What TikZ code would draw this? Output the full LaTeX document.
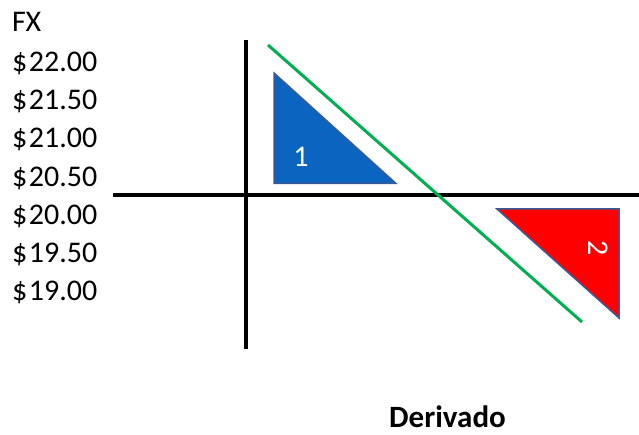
\documentclass[tikz,border=0pt]{standalone}
\usepackage{fontspec}
\setmainfont{Carlito}
\usetikzlibrary{positioning}
\definecolor{axis}{HTML}{000000}
\definecolor{hedge}{HTML}{00B050}
\definecolor{bluefill}{HTML}{0B64C0}
\definecolor{redfill}{HTML}{FF0000}
\definecolor{edge}{HTML}{3A5A94}

\begin{document}
\begin{tikzpicture}[x=1pt,y=-1pt,font=\fontsize{30}{34}\selectfont,
  lbl/.style={anchor=base west,inner sep=0pt},
  axisline/.style={line width=4pt,axis},
  tri/.style={draw=edge,line width=1.5pt,line join=miter},
  num/.style={text=white,inner sep=0pt}]
\useasboundingbox (0,0) rectangle (639,435);
% fx scale
\node[lbl] (fx) at (12,32) {FX};
\foreach \v [count=\i from 0] in {22.00,21.50,21.00,20.50,20.00,19.50,19.00}
  \node[lbl] (r\i) at (12,71.5+38.2*\i) {\$\kern1.5pt\v};
% axes
\coordinate (hl) at (113,195); \coordinate (hr) at (639,195);
\coordinate (vt) at (246,40); \coordinate (vb) at (246,349);
\draw[axisline](hl)--(hr);
\draw[axisline](vt)--(vb);
% triangles
\draw[tri,fill=bluefill] (274,73)--(274,183.5)--(396,183.5)--cycle;
\draw[tri,fill=redfill] (497,209)--(619,209)--(619,318)--cycle;
\node[num] (t1) at (301,157) {1};
\node[num,rotate=-90] (t2) at (598,248) {2};
% derivative line
\coordinate (ga) at (268,45); \coordinate (gb) at (582,322);
\draw[line width=3pt,hedge](ga)--(gb);
\node[font=\fontsize{31}{34}\selectfont\bfseries,inner sep=0pt,anchor=base] (der) at (447.5,427) {Derivado};
\end{tikzpicture}
\end{document}
